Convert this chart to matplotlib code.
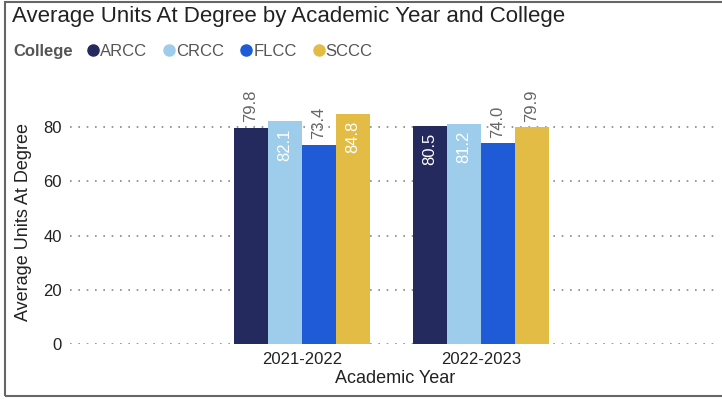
import numpy as np
import matplotlib.pyplot as plt
from matplotlib.lines import Line2D
from matplotlib.patches import Rectangle

plt.rcParams['font.family'] = ['Liberation Sans', 'DejaVu Sans']

years = ['2021-2022', '2022-2023']
colleges = ['ARCC', 'CRCC', 'FLCC', 'SCCC']
arcc = [79.8, 80.5]
crcc = [82.1, 81.2]
flcc = [73.4, 74.0]
sccc = [84.8, 79.9]
# True = label drawn inside bar (white), False = above bar (gray)
inside = {'ARCC': [False, True], 'CRCC': [True, True],
          'FLCC': [False, False], 'SCCC': [True, False]}
colors = ['#252a5e', '#9dcdeb', '#1f5bd6', '#e3bc45']

series = [arcc, crcc, flcc, sccc]

fig = plt.figure(figsize=(7.22, 4.0), dpi=100)
ax = fig.add_axes([0.097, 0.14, 0.9, 0.61])

x = np.arange(len(years))
w = 0.19
for i, (name, vals, c) in enumerate(zip(colleges, series, colors)):
    pos = x + (i - 1.5) * w
    ax.bar(pos, vals, width=w, color=c, zorder=3)
    for p, v, ins in zip(pos, vals, inside[name]):
        if ins:
            ax.annotate(f'{v:.1f}', (p, v), xytext=(0, -5), textcoords='offset points',
                        rotation=90, ha='center', va='top', color='white', fontsize=12, zorder=4)
        else:
            ax.annotate(f'{v:.1f}', (p, v), xytext=(0, 4), textcoords='offset points',
                        rotation=90, ha='center', va='bottom', color='#666666', fontsize=12,
                        zorder=4, annotation_clip=False)

ax.set_xlim(-1.296, 2.335)
ax.set_ylim(0, 90)
ax.set_yticks([0, 20, 40, 60, 80])
ax.set_xticks(x)
ax.set_xticklabels(years)
ax.tick_params(length=0, labelsize=12, colors='#222222', pad=6)
ax.grid(axis='y', linestyle=(0, (1, 4)), color='#888888', linewidth=1.2, zorder=0)
for s in ax.spines.values():
    s.set_visible(False)
ax.set_xlabel('Academic Year', fontsize=13, color='#222222', labelpad=2)
ax.set_ylabel('Average Units At Degree', fontsize=13, color='#222222', labelpad=8)

fig.text(0.017, 0.958, 'Average Units At Degree by Academic Year and College',
         fontsize=16, color='#222222', va='center', ha='left')
fig.text(0.019, 0.872, 'College', fontsize=12, fontweight='bold', color='#555555',
         va='center', ha='left')
handles = [Line2D([], [], marker='o', linestyle='none', markersize=8,
                  markerfacecolor=c, markeredgecolor=c) for c in colors]
fig.legend(handles, colleges, loc='center left', bbox_to_anchor=(0.115, 0.872),
           ncol=4, frameon=False, fontsize=12, handletextpad=-0.2,
           columnspacing=0.75, handlelength=1.2, borderaxespad=0, borderpad=0,
           labelcolor='#555555')

fig.patches.append(Rectangle((0.007, 0.01), 1.1, 0.985, transform=fig.transFigure,
                             fill=False, edgecolor='#666666', linewidth=1.5))

fig.savefig('out.png', dpi=100)
